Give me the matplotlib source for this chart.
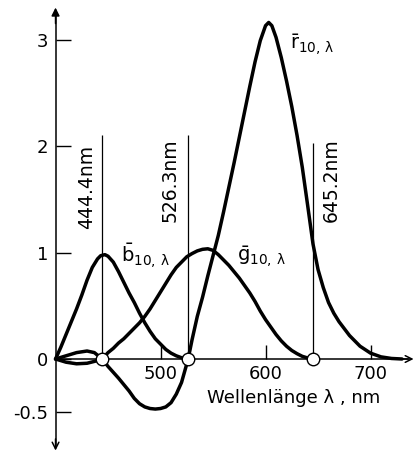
import matplotlib.pyplot as plt

# Data (CIE 1964 10-degree RGB matching functions)
b_nm = [400, 405, 410, 415, 420, 425, 430, 435, 440, 443, 447, 450, 455, 460,
        465, 470, 475, 480, 485, 490, 495, 500, 505, 510, 515, 520, 526.3]
b_val = [0, 0.11, 0.23, 0.35, 0.47, 0.60, 0.74, 0.86, 0.94, 0.97, 0.98, 0.965,
         0.91, 0.82, 0.72, 0.62, 0.53, 0.43, 0.34, 0.26, 0.19, 0.14, 0.09,
         0.055, 0.03, 0.012, 0]

g_nm = [400, 410, 420, 430, 440, 444.4, 450, 455, 460, 465, 470, 475, 480, 485,
        490, 495, 500, 505, 510, 515, 520, 525, 530, 535, 540, 545, 550, 555,
        560, 565, 570, 575, 580, 585, 590, 595, 600, 605, 610, 615, 620, 625,
        630, 635, 640, 645.2]
g_val = [0, -0.03, -0.045, -0.04, -0.015, 0, 0.06, 0.10, 0.15, 0.19, 0.24, 0.29,
         0.34, 0.40, 0.47, 0.55, 0.63, 0.71, 0.79, 0.86, 0.91, 0.96, 0.99,
         1.015, 1.03, 1.035, 1.02, 0.98, 0.93, 0.88, 0.82, 0.76, 0.69, 0.62,
         0.54, 0.45, 0.37, 0.30, 0.23, 0.17, 0.12, 0.08, 0.05, 0.025, 0.01, 0]

r_nm = [400, 410, 420, 430, 437, 444.4, 450, 460, 470, 475, 480, 485, 490, 495,
        500, 505, 510, 515, 520, 526.3, 530, 535, 540, 545, 550, 555, 560, 565,
        570, 575, 580, 585, 590, 595, 600, 603, 606, 610, 615, 620, 625, 630,
        635, 640, 645.2, 650, 655, 660, 665, 670, 680, 690, 700, 710, 720, 730]
r_val = [0, 0.03, 0.06, 0.075, 0.06, 0, -0.07, -0.18, -0.30, -0.37, -0.42,
         -0.45, -0.465, -0.47, -0.465, -0.45, -0.41, -0.33, -0.22, 0, 0.18,
         0.40, 0.58, 0.78, 0.97, 1.16, 1.38, 1.61, 1.84, 2.08, 2.32, 2.56, 2.79,
         2.99, 3.13, 3.16, 3.13, 3.02, 2.83, 2.61, 2.37, 2.10, 1.80, 1.45, 1.08,
         0.84, 0.67, 0.53, 0.43, 0.35, 0.22, 0.12, 0.055, 0.02, 0.005, 0]

primaries = [444.4, 526.3, 645.2]
primary_labels = ["444.4nm", "526.3nm", "645.2nm"]

x_ticks = [500, 600, 700]
y_ticks = [-0.5, 0, 1, 2, 3]
y_ticklabels = ["-0.5", "0", "1", "2", "3"]

plt.rcParams['mathtext.fontset'] = 'dejavusans'

fig = plt.figure(figsize=(4.18, 4.59), dpi=100)
ax = fig.add_axes([0, 0, 1, 1])
ax.set_xlim(347.1, 745.2)
ax.set_ylim(-0.939, 3.371)

# curves
for nm, val in [(b_nm, b_val), (g_nm, g_val), (r_nm, r_val)]:
    ax.plot(nm, val, color='black', lw=2.5, solid_joinstyle='round',
            solid_capstyle='round', zorder=3)

# primary wavelength lines and markers
ax.vlines(primaries, 0, [2.1, 2.1, 2.03], color='black', lw=0.9, zorder=2)
ax.plot(primaries, [0, 0, 0], 'o', ms=9, mfc='white', mec='black', mew=1.0,
        zorder=5)
ax.text(430, 1.62, primary_labels[0], rotation=90, ha='center', va='center',
        fontsize=13.5)
ax.text(509, 1.68, primary_labels[1], rotation=90, ha='center', va='center',
        fontsize=13.5)
ax.text(663, 1.68, primary_labels[2], rotation=90, ha='center', va='center',
        fontsize=13.5)

# curve labels
ax.text(462, 0.97, r'$\bar{\mathrm{b}}_{10,\,\mathrm{\lambda}}$', fontsize=14,
        ha='left', va='center')
ax.text(573, 0.96, r'$\bar{\mathrm{g}}_{10,\,\mathrm{\lambda}}$', fontsize=14,
        ha='left', va='center')
ax.text(623, 2.95, r'$\bar{\mathrm{r}}_{10,\,\mathrm{\lambda}}$', fontsize=14,
        ha='left', va='center')

ax.text(627, -0.366, "Wellenlänge λ , nm", ha='center', va='center',
        fontsize=13)

# axes through the origin
for s in ['top', 'right']:
    ax.spines[s].set_visible(False)
ax.spines['left'].set_position(('data', 400))
ax.spines['bottom'].set_position(('data', 0))
ax.spines['left'].set_bounds(-0.82, 3.25)
ax.spines['bottom'].set_bounds(400, 736)
ax.spines['left'].set_linewidth(1.1)
ax.spines['bottom'].set_linewidth(1.1)

ax.set_xticks(x_ticks)
ax.set_yticks(y_ticks)
ax.set_yticklabels(y_ticklabels)
ax.tick_params(axis='y', direction='in', length=11, width=1, pad=5,
               labelsize=13)
ax.tick_params(axis='x', direction='in', length=10, width=1, pad=4,
               labelsize=13)

# arrow heads
ax.annotate('', xy=(400, 3.30), xytext=(400, 3.15),
            arrowprops=dict(arrowstyle='-|>', color='black', lw=1.1,
                            mutation_scale=12, shrinkA=0, shrinkB=0))
ax.annotate('', xy=(400, -0.86), xytext=(400, -0.75),
            arrowprops=dict(arrowstyle='->', color='black', lw=1.1,
                            mutation_scale=12, shrinkA=0, shrinkB=0))
ax.annotate('', xy=(741, 0), xytext=(725, 0),
            arrowprops=dict(arrowstyle='->', color='black', lw=1.1,
                            mutation_scale=12, shrinkA=0, shrinkB=0))

fig.savefig("out.png", dpi=100)
